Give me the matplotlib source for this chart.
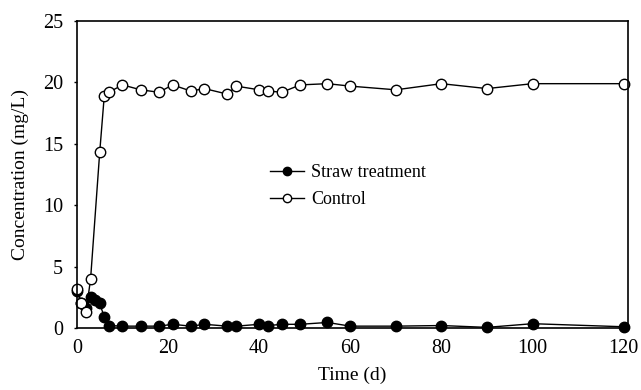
import matplotlib
matplotlib.use("Agg")
import matplotlib.pyplot as plt

# data
straw_days = [0, 1, 2, 3, 4, 5, 6, 7, 10, 14, 18, 21, 25, 28, 33, 35, 40, 42, 45, 49,
              55, 60, 70, 80, 90, 100, 120]
straw_conc = [3.0, 2.0, 1.6, 2.5, 2.3, 2.0, 0.9, 0.2, 0.15, 0.15, 0.15, 0.3, 0.15, 0.3,
              0.15, 0.15, 0.3, 0.2, 0.3, 0.3, 0.45, 0.15, 0.15, 0.2, 0.05, 0.35, 0.1]

control_days = [0, 1, 2, 3, 5, 6, 7, 10, 14, 18, 21, 25, 28, 33, 35, 40, 42, 45, 49,
                55, 60, 70, 80, 90, 100, 120]
control_conc = [3.2, 2.0, 1.3, 4.0, 14.3, 18.9, 19.2, 19.8, 19.4, 19.2, 19.8, 19.3, 19.5,
                19.05, 19.7, 19.4, 19.3, 19.2, 19.8, 19.9, 19.7, 19.4, 19.9, 19.5, 19.9, 19.9]

x_ticks = [0, 20, 40, 60, 80, 100, 120]
y_ticks = [0, 5, 10, 15, 20, 25]

plt.rcParams['font.family'] = ['Liberation Serif', 'DejaVu Serif']

fig = plt.figure(figsize=(6.41, 3.90), dpi=100)
ax = fig.add_axes([0.12, 0.159, 0.86, 0.787])

ax.plot(straw_days, straw_conc, color="black", lw=1, marker="o", markersize=7.5,
        markerfacecolor="black", markeredgecolor="black", label="Straw treatment",
        clip_on=False)
ax.plot(control_days, control_conc, color="black", lw=1, marker="o", markersize=7.5,
        markerfacecolor="white", markeredgecolor="black", label="Control",
        clip_on=False)

# axis runs a little past 120 so the last label fits like the original
ax.set_xlim(0, 121)
ax.set_ylim(0, 25)
ax.set_xticks(x_ticks)
ax.set_yticks(y_ticks)
ax.tick_params(axis="both", labelsize=14.5, direction="out", length=2, width=1)
ax.tick_params(axis="y", pad=8)
ax.tick_params(axis="x", length=0, pad=8)
for s in ax.spines.values():
    s.set_linewidth(1.2)

ax.set_xlabel("Time (d)", fontsize=14, labelpad=6)
ax.set_ylabel("Concentration (mg/L)", fontsize=14, labelpad=10)

ax.legend(loc="center left", bbox_to_anchor=(0.35, 0.4625), frameon=False, fontsize=13,
          handlelength=1.9, handletextpad=0.4, labelspacing=0.55, borderpad=0,
          borderaxespad=0, markerscale=0.8)

fig.savefig("out.png", dpi=100)
